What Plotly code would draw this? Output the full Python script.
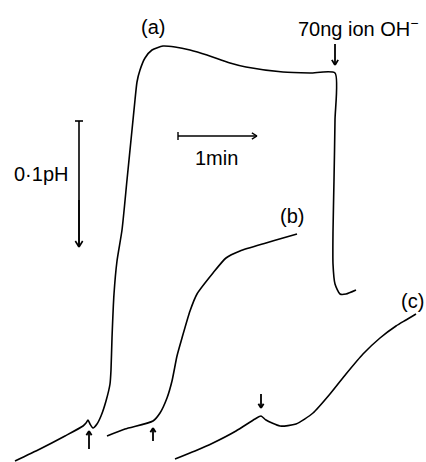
import math
import plotly.graph_objects as go

# Trace (a): positions (paper units)
a_x = [15, 40, 65, 83, 86, 88, 90, 93, 97, 101, 106, 110, 111, 112, 114, 117, 122, 127, 132, 135, 137, 140, 145, 152, 163, 175, 190, 207, 230, 246, 283, 310, 335, 335, 334, 333, 333, 335, 340, 346, 356]
a_y = [461, 449, 436, 426, 423, 420, 424, 428, 424, 416, 401, 384, 370, 338, 294, 261, 230, 180, 130, 100, 82, 70, 58, 50, 46, 47, 50, 55, 63, 67, 72, 73, 73, 120, 180, 232, 264, 284, 294, 294, 290]

# Trace (b)
b_x = [107, 125, 153, 160, 167, 172, 177, 182, 190, 197, 213, 226, 240, 266, 283, 297]
b_y = [436, 429, 421, 413, 398, 381, 356, 338, 311, 294, 273, 258, 251, 243, 238, 234]

# Trace (c)
c_x = [175, 195, 213, 236, 255, 261, 266, 280, 296, 313, 330, 346, 363, 380, 396, 406, 416]
c_y = [459, 451, 443, 431, 419, 416, 420, 426, 424, 413, 394, 374, 354, 338, 326, 320, 314]

labels = ["(a)", "(b)", "(c)"]
label_x = [153, 292, 412]
label_y = [27, 216, 301]

fig = go.Figure()
for xs, ys in [(a_x, a_y), (b_x, b_y), (c_x, c_y)]:
    fig.add_trace(go.Scatter(x=xs, y=ys, mode="lines",
                             line=dict(color="black", width=1.6, shape="spline", smoothing=0.6),
                             hoverinfo="skip", showlegend=False))


def seg(xs, ys, w=1.6):
    fig.add_trace(go.Scatter(x=xs, y=ys, mode="lines", line=dict(color="black", width=w),
                             showlegend=False, hoverinfo="skip"))


def arrow(x0, y0, x1, y1, head=5, w=1.6):
    seg([x0, x1], [y0, y1], w)
    ang = math.atan2(y1 - y0, x1 - x0)
    hx, hy = [], []
    for d in (0.55, -0.55):
        hx += [x1 - head * math.cos(ang + d), x1, None]
        hy += [y1 - head * math.sin(ang + d), y1, None]
    seg(hx, hy, w)


# pH scale bar
seg([79, 79], [121, 246])
seg([75, 83], [121, 121])
arrow(79, 200, 79, 247, head=7)
# 1 min scale bar
seg([178, 178], [132, 140], 1.4)
arrow(178, 136, 257, 136, head=6, w=1.4)
# injection markers
arrow(335, 44, 335, 65, head=6, w=1.8)
arrow(89, 449, 89, 431, head=5, w=1.8)
arrow(153, 441, 153, 428, head=5, w=1.8)
arrow(261, 394, 261, 408, head=5, w=1.8)

font = dict(family="Liberation Sans", size=20, color="black")
for t, x, y in zip(labels, label_x, label_y):
    fig.add_annotation(x=x, y=y, text=t, showarrow=False, font=font)

fig.add_annotation(x=358, y=27, text="70ng ion OH<sup>−</sup>", showarrow=False, font=font)
fig.add_annotation(x=41, y=174, text="0·1pH", showarrow=False, font=font)
fig.add_annotation(x=216, y=158, text="1min", showarrow=False, font=font)

fig.update_xaxes(range=[0, 426], visible=False)
fig.update_yaxes(range=[462, 0], visible=False)
fig.update_layout(width=426, height=462, margin=dict(l=0, r=0, t=0, b=0),
                  plot_bgcolor="white", paper_bgcolor="white")
fig.write_html("out.html", config={"displayModeBar": False},
               post_script="document.body.style.margin='0';")
